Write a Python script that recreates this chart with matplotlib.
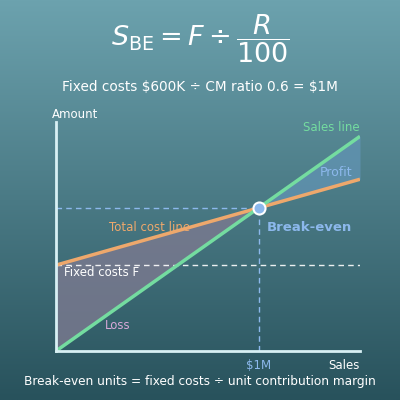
import matplotlib.pyplot as plt
import numpy as np

# values in $M
fixed_costs = 0.6
cm_ratio = 0.6
var_rate = 1 - cm_ratio
sales_x = [0.0, 1.5]
breakeven = fixed_costs / cm_ratio

sales_y = [x for x in sales_x]
cost_y = [fixed_costs + var_rate * x for x in sales_x]

green = '#74dca0'
orange = '#eea86c'
blue = '#8cb8ec'
axis_col = '#d8f0f4'

fig = plt.figure(figsize=(4, 4), dpi=100)

# background gradient
bg = fig.add_axes([0, 0, 1, 1])
grad = np.linspace(0, 1, 256).reshape(-1, 1)
top = np.array([0x6c, 0xa2, 0xae]) / 255
bot = np.array([0x28, 0x52, 0x5c]) / 255
img = top + (bot - top) * grad[:, :, None]
bg.imshow(img, aspect='auto', extent=[0, 1, 0, 1])
bg.set_axis_off()

fig.text(0.5, 0.903, r'$S_{\mathrm{BE}} = F \div \dfrac{R}{100}$', ha='center', va='center',
         color='white', fontsize=19.5)
fig.text(0.5, 0.782, 'Fixed costs \\$600K ÷ CM ratio 0.6 = \\$1M', ha='center', va='center',
         color='white', fontsize=9.8)
fig.text(0.5, 0.047, 'Break-even units = fixed costs ÷ unit contribution margin', ha='center',
         va='center', color='white', fontsize=8.7)

ax = fig.add_axes([0.14, 0.1225, 0.76, 0.5725])
ax.patch.set_alpha(0)
ax.set_xlim(0, 1.5)
ax.set_ylim(0, 1.6)
for s in ['top', 'right']:
    ax.spines[s].set_visible(False)
for s in ['left', 'bottom']:
    ax.spines[s].set_color(axis_col)
    ax.spines[s].set_linewidth(2)
ax.set_xticks([])
ax.set_yticks([])

xs = np.linspace(sales_x[0], sales_x[1], 200)
ys = np.interp(xs, sales_x, sales_y)
yc = np.interp(xs, sales_x, cost_y)
ax.fill_between(xs, ys, yc, where=xs <= breakeven, color='#7c7a90', alpha=0.8, lw=0)
ax.fill_between(xs, ys, yc, where=xs >= breakeven, color='#6294b4', alpha=0.75, lw=0)

ax.plot([0, 1.5], [fixed_costs, fixed_costs], color='white', ls=(0, (4, 3)), lw=1, alpha=0.9)
ax.plot([0, breakeven], [breakeven, breakeven], color=blue, ls=(0, (4, 3)), lw=1)
ax.plot([breakeven, breakeven], [0, breakeven], color=blue, ls=(0, (4, 3)), lw=1)

ax.plot(sales_x, cost_y, color=orange, lw=2.5, solid_capstyle='butt')
ax.plot(sales_x, sales_y, color=green, lw=2.5, solid_capstyle='butt')
ax.scatter([breakeven], [breakeven], s=75, color=blue, edgecolor='white', linewidth=1.5, zorder=5)

ax.text(1.5, 1.56, 'Sales line', color=green, ha='right', va='center', fontsize=8.5)
ax.text(1.46, 1.25, 'Profit', color=blue, ha='right', va='center', fontsize=9)
ax.text(0.26, 0.86, 'Total cost line', color=orange, ha='left', va='center', fontsize=8.5)
ax.text(1.04, 0.86, 'Break-even', color=blue, ha='left', va='center', fontsize=9.5,
        fontweight='bold')
ax.text(0.04, 0.55, 'Fixed costs F', color='white', ha='left', va='center', fontsize=8.5)
ax.text(0.24, 0.18, 'Loss', color='#d8a8d8', ha='left', va='center', fontsize=8.5)
ax.text(-0.02, 1.61, 'Amount', color='white', ha='left', va='bottom', fontsize=8.5)
ax.text(1.5, -0.1, 'Sales', color='white', ha='right', va='center', fontsize=8.5)
ax.text(breakeven, -0.1, '\\$1M', color=blue, ha='center', va='center', fontsize=8.5)

fig.savefig('out.png', dpi=100)
